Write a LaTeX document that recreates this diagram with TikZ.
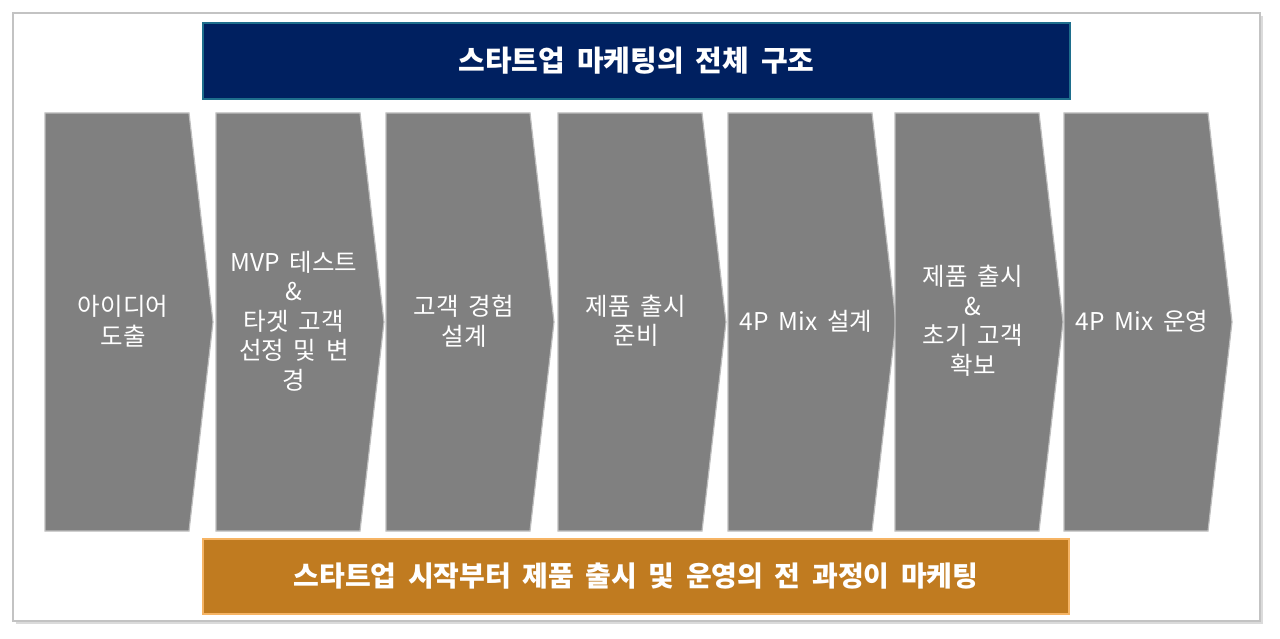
\documentclass[tikz,border=0pt]{standalone}
\usepackage{fontspec}
\newfontfamily\kr{Noto Sans CJK KR}[WordSpace=1.8]
\definecolor{navy}{RGB}{0,32,96}
\definecolor{navyline}{RGB}{30,110,140}
\definecolor{ochre}{RGB}{192,123,32}
\definecolor{ochreline}{RGB}{246,180,100}
\definecolor{stepgray}{RGB}{128,128,128}
\definecolor{stepline}{RGB}{190,190,190}
\definecolor{framegray}{RGB}{195,195,195}

\begin{document}
\begin{tikzpicture}[x=1pt,y=-1pt]
      \useasboundingbox (0,0) rectangle (1280,639);
      \tikzstyle{banner}=[line width=1.2pt]
      \tikzstyle{bannertext}=[font=\kr\bfseries\fontsize{29}{32}\selectfont, text=white]
      \tikzstyle{chev}=[fill=stepgray, draw=stepline, line width=1.2pt]
      \tikzstyle{steptext}=[font=\kr\fontsize{24.5}{29.5}\selectfont, text=white, align=center]
      \fill [framegray!60] (16,16) rectangle (1263,624);
      \draw [framegray, fill=white, line width=1.2pt] (13,13) rectangle (1260,621);
      \draw [banner, fill=navy, draw=navyline] (203,23) rectangle (1070,99);
      \node [bannertext] (title) at (636.5,61) {스타트업 마케팅의 전체 구조};
      \foreach \x/\name/\txt in {45/idea/{아이디어\\도출},
          216/mvp/{MVP 테스트\\\&\\타겟 고객\\선정 및 변\\경},
          386/cx/{고객 경험\\설계}, 558/prep/{제품 출시\\준비},
          728/mixplan/{4P Mix 설계}, 895/launch/{제품 출시\\\&\\초기 고객\\확보},
          1064/mixrun/{4P Mix 운영}} {
        \draw [chev] (\x,113) -- ++(144,0) -- ++(24,209) -- ++(-24,209) -- ++(-144,0) -- cycle;
        \node [steptext] (\name) at (\x+78,321) {\txt};
      }
      \draw [banner, fill=ochre, draw=ochreline] (203,539) rectangle (1069,614);
      \node [bannertext, font=\kr\bfseries\fontsize{28}{32}\selectfont] (summary) at (636,576)
          {스타트업 시작부터 제품 출시 및 운영의 전 과정이 마케팅};
\end{tikzpicture}
\end{document}
